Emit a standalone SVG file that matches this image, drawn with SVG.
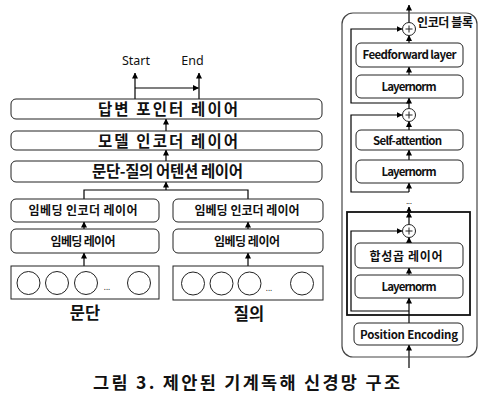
<svg xmlns="http://www.w3.org/2000/svg" width="496" height="420" viewBox="0 0 496 420">
<defs>
<marker id="ah" markerUnits="userSpaceOnUse" markerWidth="6" markerHeight="6" refX="5.5" refY="3" orient="auto">
<path d="M0,0 L6,3 L0,6 z" fill="#000"/>
</marker>
<style>
.box{fill:#fff;stroke:#222;stroke-width:1}
.t{font-family:"Noto Sans CJK KR","Noto Sans",sans-serif;font-weight:bold;fill:#111;text-anchor:middle}
.e{font-family:"Noto Sans","Noto Sans CJK KR",sans-serif;fill:#111;text-anchor:middle}
.c{stroke:#000;stroke-width:1.2;fill:none}
.a{stroke:#000;stroke-width:1.2;fill:none;marker-end:url(#ah)}
.circ{fill:#fff;stroke:#222;stroke-width:1}
</style>
</defs>
<rect width="496" height="420" fill="#fff"/>

<g id="connectors">
<line class="a" x1="135" y1="99" x2="135" y2="73"/>
<line class="a" x1="199" y1="99" x2="199" y2="73"/>
<line class="a" x1="135" y1="88" x2="198.5" y2="88"/>
<line class="a" x1="166" y1="131" x2="166" y2="119"/>
<line class="a" x1="166" y1="161" x2="166" y2="150"/>
<line class="a" x1="166" y1="190" x2="166" y2="182"/>
<polyline class="c" points="84,199 84,190 248,190 248,199"/>
<line class="a" x1="84" y1="229" x2="84" y2="222"/>
<line class="a" x1="84" y1="266" x2="84" y2="253"/>
<line class="a" x1="248" y1="229" x2="248" y2="222"/>
<line class="a" x1="248" y1="266" x2="248" y2="253"/>
<line class="a" x1="409" y1="22.5" x2="409" y2="5"/>
<line class="a" x1="409" y1="43" x2="409" y2="35.5"/>
<line class="a" x1="409" y1="75" x2="409" y2="67"/>
<line class="a" x1="409" y1="108.5" x2="409" y2="98"/>
<polyline class="a" points="409,103 351,103 351,29 402,29"/>
<line class="a" x1="409" y1="130" x2="409" y2="121.5"/>
<line class="a" x1="409" y1="160" x2="409" y2="150"/>
<line class="a" x1="409" y1="192" x2="409" y2="183"/>
<polyline class="a" points="409,192 351,192 351,115 402,115"/>
<line class="a" x1="409" y1="212" x2="409" y2="207"/>
<line class="a" x1="409" y1="224.5" x2="409" y2="212"/>
<line class="a" x1="409" y1="243" x2="409" y2="237.5"/>
<line class="a" x1="409" y1="275" x2="409" y2="268"/>
<polyline class="a" points="409,311 351,311 351,231 402,231"/>
<line class="a" x1="409" y1="323" x2="409" y2="298"/>
<line class="a" x1="409" y1="368" x2="409" y2="345"/>
</g>

<g id="start"><text class="e" x="136" y="65" font-size="12.5">Start</text></g>
<g id="end"><text class="e" x="192.5" y="65" font-size="12.5">End</text></g>

<g id="answer-pointer">
<rect class="box" x="11" y="99" width="311" height="20" rx="5"/>
<text class="t" x="168" y="115" font-size="15.5" textLength="140" lengthAdjust="spacing">답변 포인터 레이어</text>
</g>
<g id="model-encoder">
<rect class="box" x="11" y="131" width="311" height="19" rx="5"/>
<text class="t" x="168" y="146.5" font-size="15.5" textLength="140" lengthAdjust="spacing">모델 인코더 레이어</text>
</g>
<g id="attention">
<rect class="box" x="11" y="161" width="311" height="21" rx="5"/>
<text class="t" x="167.5" y="177" font-size="15.5" textLength="151" lengthAdjust="spacing">문단-질의 어텐션 레이어</text>
</g>

<g id="p-emb-enc">
<rect class="box" x="11" y="199" width="148" height="23" rx="5"/>
<text class="t" x="83" y="215" font-size="12" textLength="109" lengthAdjust="spacing">임베딩 인코더 레이어</text>
</g>
<g id="p-emb">
<rect class="box" x="11" y="229" width="148" height="24" rx="5"/>
<text class="t" x="83" y="246" font-size="12" textLength="65" lengthAdjust="spacing">임베딩 레이어</text>
</g>
<g id="p-input">
<rect x="11" y="266" width="148" height="33" fill="#fff" stroke="#222" stroke-width="1"/>
<circle class="circ" cx="28.5" cy="283" r="11.5"/>
<circle class="circ" cx="57" cy="283" r="11.5"/>
<circle class="circ" cx="86" cy="283" r="11.5"/>
<circle class="circ" cx="139" cy="283" r="11.5"/>
<text class="e" x="107" y="290" font-size="8" fill="#555">...</text>
</g>
<g id="p-label"><text class="t" x="85" y="319" font-size="16.5">문단</text></g>

<g id="q-emb-enc">
<rect class="box" x="173" y="199" width="150" height="23" rx="5"/>
<text class="t" x="247" y="215" font-size="12" textLength="105" lengthAdjust="spacing">임베딩 인코더 레이어</text>
</g>
<g id="q-emb">
<rect class="box" x="173" y="229" width="150" height="24" rx="5"/>
<text class="t" x="247" y="246" font-size="12" textLength="66" lengthAdjust="spacing">임베딩 레이어</text>
</g>
<g id="q-input">
<rect x="173" y="266" width="150" height="34" fill="#fff" stroke="#222" stroke-width="1"/>
<circle class="circ" cx="193" cy="283.5" r="11.5"/>
<circle class="circ" cx="221.5" cy="283.5" r="11.5"/>
<circle class="circ" cx="249.5" cy="283.5" r="11.5"/>
<circle class="circ" cx="302" cy="283.5" r="11.5"/>
<text class="e" x="269" y="291" font-size="8" fill="#555">...</text>
</g>
<g id="q-label"><text class="t" x="249" y="320" font-size="16.5">질의</text></g>

<g id="encoder-block">
<rect x="342" y="13" width="135" height="344" rx="11" fill="none" stroke="#444" stroke-width="1.2"/>
<text class="t" x="445" y="26.5" font-size="12" textLength="56" lengthAdjust="spacing">인코더 블록</text>
</g>
<g id="add-top">
<circle class="circ" cx="409" cy="29" r="6.5"/>
<path d="M405.5,29 H412.5 M409,25.5 V32.5" stroke="#222" stroke-width="1"/>
</g>
<g id="feedforward">
<rect class="box" x="356" y="43" width="107" height="24" rx="5"/>
<text class="t" x="409.5" y="59" font-size="11.5" textLength="94" lengthAdjust="spacing">Feedforward layer</text>
</g>
<g id="layernorm1">
<rect class="box" x="356" y="75" width="107" height="23" rx="5"/>
<text class="t" x="409" y="91" font-size="11.5" textLength="55" lengthAdjust="spacing">Layernorm</text>
</g>
<g id="add-mid">
<circle class="circ" cx="409" cy="115" r="6.5"/>
<path d="M405.5,115 H412.5 M409,111.5 V118.5" stroke="#222" stroke-width="1"/>
</g>
<g id="self-attention">
<rect class="box" x="356" y="130" width="107" height="20" rx="5"/>
<text class="t" x="407.5" y="144.5" font-size="11.5" textLength="69" lengthAdjust="spacing">Self-attention</text>
</g>
<g id="layernorm2">
<rect class="box" x="356" y="160" width="107" height="23" rx="5"/>
<text class="t" x="409" y="176" font-size="11.5" textLength="55" lengthAdjust="spacing">Layernorm</text>
</g>
<g id="dots"><text class="e" x="409" y="204" font-size="7" fill="#999">...</text></g>
<g id="conv-block">
<rect x="347" y="212" width="123" height="103" fill="none" stroke="#111" stroke-width="1.8"/>
</g>
<g id="add-bottom">
<circle class="circ" cx="409" cy="231" r="6.5"/>
<path d="M405.5,231 H412.5 M409,227.5 V234.5" stroke="#222" stroke-width="1"/>
</g>
<g id="conv">
<rect class="box" x="355" y="243" width="108" height="25" rx="5"/>
<text class="t" x="406" y="260.5" font-size="12" textLength="73" lengthAdjust="spacing">합성곱 레이어</text>
</g>
<g id="layernorm3">
<rect class="box" x="355" y="275" width="108" height="23" rx="5"/>
<text class="t" x="409" y="291" font-size="11.5" textLength="55" lengthAdjust="spacing">Layernorm</text>
</g>
<g id="position-encoding">
<rect class="box" x="354" y="323" width="109" height="22" rx="5"/>
<text class="t" x="409" y="338.5" font-size="11.5" textLength="98" lengthAdjust="spacing">Position Encoding</text>
</g>

<g id="caption"><text class="t" x="246.5" y="389" font-size="17.5" textLength="307" lengthAdjust="spacing">그림 3. 제안된 기계독해 신경망 구조</text></g>
</svg>
